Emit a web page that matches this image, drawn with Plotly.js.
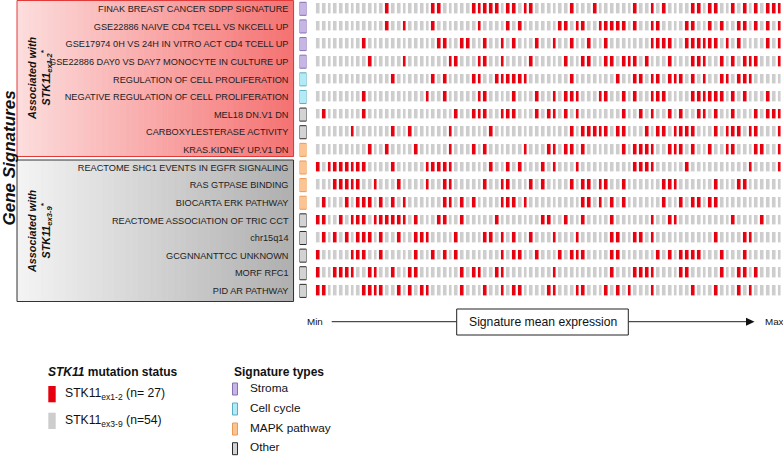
<!DOCTYPE html>
<html>
<head>
<meta charset="utf-8">
<script src="https://cdn.plot.ly/plotly-3.0.1.min.js"></script>
<style>
	html, body { margin: 0; padding: 0; background: #fff; }
	#chart { width: 783px; height: 456px; }
</style>
</head>
<body>
<div id="chart"></div>
<script>
(function () {

	'use strict';

	// gene signatures, top to bottom
	const signatures = [
		'FINAK BREAST CANCER SDPP SIGNATURE',
		'GSE22886 NAIVE CD4 TCELL VS NKCELL UP',
		'GSE17974 0H VS 24H IN VITRO ACT CD4 TCELL UP',
		'GSE22886 DAY0 VS DAY7 MONOCYTE IN CULTURE UP',
		'REGULATION OF CELL PROLIFERATION',
		'NEGATIVE REGULATION OF CELL PROLIFERATION',
		'MEL18 DN.V1 DN',
		'CARBOXYLESTERASE ACTIVITY',
		'KRAS.KIDNEY UP.V1 DN',
		'REACTOME SHC1 EVENTS IN EGFR SIGNALING',
		'RAS GTPASE BINDING',
		'BIOCARTA ERK PATHWAY',
		'REACTOME ASSOCIATION OF TRIC CCT',
		'chr15q14',
		'GCGNNANTTCC UNKNOWN',
		'MORF RFC1',
		'PID AR PATHWAY'
	];

	const signatureTypes = [
		'Stroma', 'Stroma', 'Stroma', 'Stroma',
		'Cell cycle', 'Cell cycle',
		'Other', 'Other',
		'MAPK pathway', 'MAPK pathway', 'MAPK pathway', 'MAPK pathway',
		'Other', 'Other', 'Other', 'Other', 'Other'
	];

	// samples ordered by signature mean expression (min -> max)
	const nSamples = 81;

	// positions (rank) of the STK11 ex1-2 samples in each row, all others are ex3-9
	const ex12Ranks = [
		[12,20,21,27,28,29,30,31,33,34,36,37,44,48,55,58,60,65,66,68,69,72,74,76,78,79,80],
		[12,15,20,28,33,35,42,43,45,46,49,50,51,52,53,55,58,59,64,65,68,70,73,74,76,78,80],
		[8,21,22,25,26,29,32,34,38,41,44,47,50,58,59,60,61,64,65,66,67,68,69,71,73,78,80],
		[9,15,23,24,28,29,32,37,43,46,47,50,51,53,54,55,57,61,65,66,67,70,72,74,75,76,80],
		[13,20,22,27,28,31,32,33,34,35,36,44,52,55,56,58,59,61,62,63,65,67,70,71,73,74,75],
		[8,19,22,28,29,34,38,41,43,44,45,49,50,53,55,58,59,60,65,66,67,68,69,70,72,74,78],
		[1,8,24,27,28,29,32,33,34,38,40,41,43,45,53,56,58,61,63,66,67,69,72,76,78,79,80],
		[6,13,16,23,30,44,46,47,48,49,50,52,53,57,59,60,62,63,64,65,69,71,72,73,75,76,80],
		[9,12,17,23,27,29,36,40,41,43,44,46,53,55,56,57,58,61,62,63,65,68,71,72,76,77,80],
		[0,2,3,4,5,6,7,8,13,19,20,21,22,23,30,33,35,39,41,45,55,56,57,58,64,75,80],
		[3,4,5,6,7,10,14,19,22,23,29,32,33,37,39,44,46,47,49,50,53,60,61,62,69,73,74],
		[1,5,7,8,9,11,13,15,22,23,25,27,32,33,34,36,46,47,49,51,53,60,63,65,66,68,69],
		[0,1,4,6,7,8,10,11,12,13,14,15,17,21,22,25,31,39,40,43,46,51,58,61,62,72,77],
		[1,3,5,7,8,9,11,14,17,18,19,24,29,30,32,34,37,41,45,51,52,55,56,58,69,74,75],
		[0,6,7,8,11,17,20,22,24,32,34,35,38,42,44,45,46,51,52,59,61,63,64,65,66,70,74],
		[0,3,4,5,6,9,10,13,16,17,25,27,28,31,32,41,51,55,56,57,58,63,64,70,73,74,76],
		[0,1,8,9,10,11,14,16,18,19,25,29,32,34,35,40,41,45,46,50,52,54,58,65,69,73,75]
	];

	const statusLabels = ['STK11<sub>ex1-2</sub> (n= 27)', 'STK11<sub>ex3-9</sub> (n=54)'];
	const typeNames = ['Stroma', 'Cell cycle', 'MAPK pathway', 'Other'];

	/**
	* styles
	*/
	const RED = '#e6000e';
	const GREY = '#cdcdcd';
	const typeStyle = {
		'Stroma':       { fill: '#c7b5e6', line: '#8670b4' },
		'Cell cycle':   { fill: '#b2eaf6', line: '#5aaec4' },
		'MAPK pathway': { fill: '#fcc493', line: '#eb9a55' },
		'Other':        { fill: '#d3d3d3', line: '#2a2a2a' }
	};
	const FONT = 'Liberation Sans, Arial, sans-serif';

	// page is 783 x 456, helpers to place things in px
	const W = 783, H = 456;
	const px = ( x ) => x / W;
	const py = ( y ) => 1 - y / H;

	const hex = ( c ) => [1, 3, 5].map( i => parseInt( c.substr( i, 2 ), 16 ));
	const mix = ( a, b, t ) => {
		const ca = hex( a ), cb = hex( b );
		return 'rgb(' + ca.map(( v, i ) => Math.round( v + ( cb[i] - v ) * t )).join(',') + ')';
	};

	/**
	* horizontal gradient box (strips), with border
	*/
	const gradBox = ( x0, x1, y0, y1, c0, c1, border ) => {
		const out = [];
		const n = 46;
		const w = ( x1 - x0 ) / n;
		for( let i = 0; i < n; i++ ){
			out.push({
				type: 'rect', xref: 'paper', yref: 'paper', layer: 'below',
				x0: px( x0 + i * w ), x1: px( x0 + ( i + 1 ) * w + 0.6 ),
				y0: py( y0 ), y1: py( y1 ),
				fillcolor: mix( c0, c1, i / ( n - 1 )), line: { width: 0 }
			});
		}
		out.push({
			type: 'rect', xref: 'paper', yref: 'paper', layer: 'below',
			x0: px( x0 ), x1: px( x1 ), y0: py( y0 ), y1: py( y1 ),
			line: { color: border, width: 1 }
		});
		return out;
	};

	const rect = ( x0, x1, y0, y1, fill, line ) => ({
		type: 'rect', xref: 'paper', yref: 'paper',
		x0: px( x0 ), x1: px( x1 ), y0: py( y0 ), y1: py( y1 ),
		fillcolor: fill,
		line: line ? { color: line, width: 1 } : { width: 0 }
	});

	const text = ( x, y, t, size, extra ) => Object.assign({
		xref: 'paper', yref: 'paper', x: px( x ), y: py( y ),
		text: t, showarrow: false, xanchor: 'left', yanchor: 'middle',
		font: { family: FONT, size: size, color: '#111' }
	}, extra || {});

	/**
	* Data
	*/
	const rows = signatures.map(( s, i ) => i );
	const cols = Array.from({ length: nSamples }, ( v, i ) => i );
	const z = ex12Ranks.map(( ranks ) => {
		const r = new Array( nSamples ).fill( 0 );
		ranks.forEach(( c ) => { r[c] = 1; });
		return r;
	});

	const heat = {
		type: 'heatmap',
		x: cols, y: rows, z: z,
		zmin: 0, zmax: 1,
		colorscale: [[0, GREY], [0.5, GREY], [0.5, RED], [1, RED]],
		showscale: false,
		xgap: 2.4, ygap: 7.6,
		hoverinfo: 'skip',
		xaxis: 'x', yaxis: 'y'
	};

	const typeBars = {
		type: 'bar', orientation: 'h',
		x: rows.map(() => 1 ), y: rows,
		width: 0.74,
		marker: {
			color: signatureTypes.map( t => typeStyle[t].fill ),
			line: { color: signatureTypes.map( t => typeStyle[t].line ), width: 1 }
		},
		hoverinfo: 'skip',
		xaxis: 'x2', yaxis: 'y'
	};

	/**
	* Decorations
	*/
	let shapes = [];
	shapes = shapes.concat( gradBox( 17, 293.5, 0.5, 156.5, '#fcdcdc', '#f57373', '#e23a3a' ));
	shapes = shapes.concat( gradBox( 17, 293.5, 160, 301.5, '#f3f3f3', '#b0b0b0', '#333333' ));

	// expression arrow
	const ay = 321.7;
	shapes.push({ type: 'line', xref: 'paper', yref: 'paper', x0: px( 331.7 ), x1: px( 456.7 ), y0: py( ay ), y1: py( ay ), line: { color: '#222', width: 1 }});
	shapes.push({ type: 'line', xref: 'paper', yref: 'paper', x0: px( 628.3 ), x1: px( 747 ), y0: py( ay ), y1: py( ay ), line: { color: '#222', width: 1 }});
	shapes.push({
		type: 'path', xref: 'paper', yref: 'paper',
		path: `M ${px( 746 )} ${py( ay - 4 )} L ${px( 754.5 )} ${py( ay )} L ${px( 746 )} ${py( ay + 4 )} Z`,
		fillcolor: '#111', line: { width: 0 }
	});
	shapes.push( rect( 456.7, 628.3, 309, 335, '#fff', '#222' ));

	// legend marks
	shapes.push( rect( 48.3, 55.7, 386, 402.3, RED ));
	shapes.push( rect( 48.3, 55.7, 412.7, 429, GREY ));
	const typeY = [389, 409, 429, 448.7];
	typeNames.forEach(( t, i ) => {
		shapes.push( rect( 232.5, 237.5, typeY[i] - 6, typeY[i] + 6, typeStyle[t].fill, typeStyle[t].line ));
	});

	const annotations = [
		text( 8.5, 158, '<b><i>Gene Signatures</i></b>', 17, { xanchor: 'center', textangle: -90 }),
		text( 40, 78, '<b><i>Associated with<br>STK11<sub>ex1-2</sub><sup>*</sup></i></b>', 10.8, { xanchor: 'center', textangle: -90 }),
		text( 40, 231, '<b><i>Associated with<br>STK11<sub>ex3-9</sub><sup>*</sup></i></b>', 10.8, { xanchor: 'center', textangle: -90 }),
		text( 304.5, ay, 'Min', 9.8 ),
		text( 542.5, 322, 'Signature mean expression', 12.2, { xanchor: 'center' }),
		text( 762.5, ay, 'Max', 9.8 ),
		text( 45.5, 372.3, '<b><i>STK11</i> mutation status</b>', 12 ),
		text( 62.5, 394, statusLabels[0], 12.2 ),
		text( 62.5, 420.7, statusLabels[1], 12.2 ),
		text( 231.5, 372.3, '<b>Signature types</b>', 12 )
	];
	typeNames.forEach(( t, i ) => {
		annotations.push( text( 248, typeY[i] - 1.5, t, 11.8 ));
	});

	/**
	* Layout
	*/
	const layout = {
		width: W, height: H,
		margin: { l: 0, r: 0, t: 0, b: 0, pad: 0 },
		paper_bgcolor: '#fff', plot_bgcolor: 'rgba(0,0,0,0)',
		showlegend: false,
		font: { family: FONT, color: '#111' },
		xaxis: {
			domain: [px( 314.9 ), px( 782.2 )],
			range: [-0.5, nSamples - 0.5],
			visible: false, fixedrange: true
		},
		xaxis2: {
			domain: [px( 299.5 ), px( 306.5 )],
			range: [0, 1],
			visible: false, fixedrange: true
		},
		yaxis: {
			domain: [py( 299.7 ), 1],
			range: [signatures.length - 0.5, -0.5],
			anchor: 'x2',
			tickvals: rows,
			ticktext: signatures,
			ticks: '',
			ticklabelstandoff: 10,
			showgrid: false, zeroline: false, showline: false,
			tickfont: { family: FONT, size: 9.2, color: '#222' },
			fixedrange: true
		},
		shapes: shapes,
		annotations: annotations
	};

	Plotly.newPlot(
		document.getElementById('chart'),
		[ heat, typeBars ],
		layout,
		{ displayModeBar: false, staticPlot: true }
	);

})();
</script>
</body>
</html>
